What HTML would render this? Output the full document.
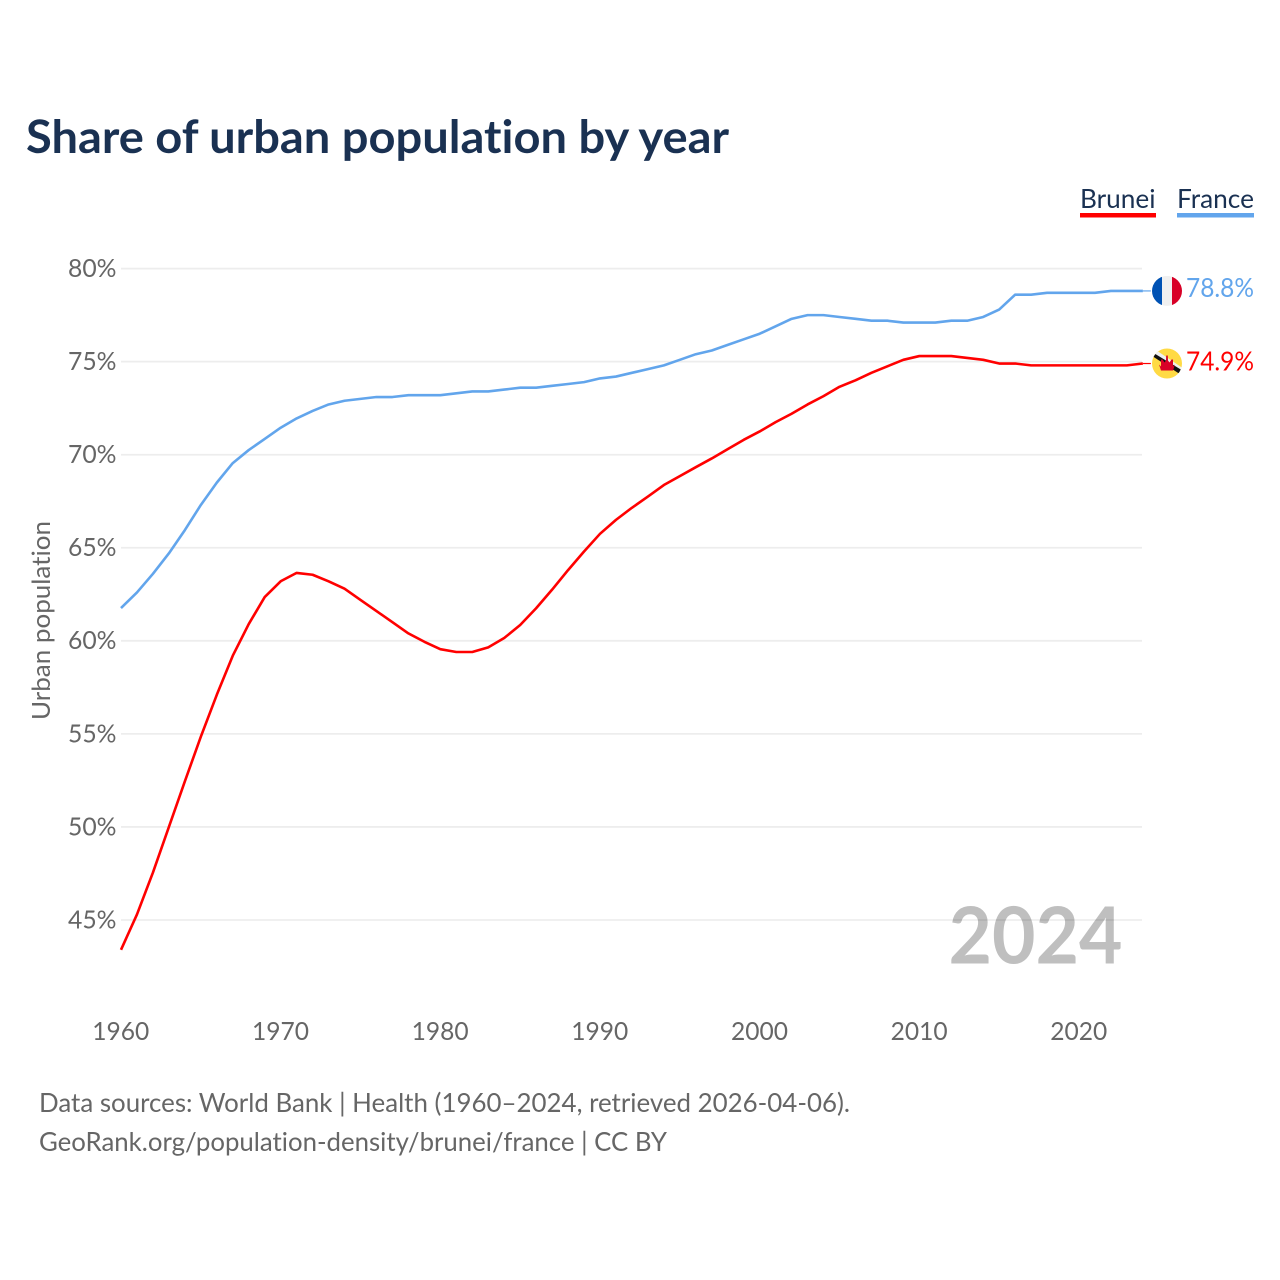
<!DOCTYPE html>
<html lang="en">
<head>
<meta charset="utf-8">
<title>Share of urban population by year</title>
<style>
html,body{margin:0;padding:0;background:#fff;width:1280px;height:1280px;overflow:hidden}
svg{display:block}
text{font-family:"Lato","Carlito","Liberation Sans",sans-serif;font-variant-ligatures:none;font-feature-settings:"liga" 0,"clig" 0}
</style>
</head>
<body>
<svg id="chart" xmlns="http://www.w3.org/2000/svg" width="1280" height="1280" viewBox="0 0 1280 1280">
  <defs>
    <clipPath id="flag-clip"><circle cx="0" cy="0" r="15"></circle></clipPath>
  </defs>
  <rect width="1280" height="1280" fill="#ffffff"></rect>
  <text x="26" y="153" font-size="46" font-weight="700" fill="#1a3152" textLength="703" lengthAdjust="spacingAndGlyphs">Share of urban population by year</text>

  <text x="1080" y="208" font-size="26.5" fill="#1a3152" textLength="75.5" lengthAdjust="spacingAndGlyphs">Brunei</text>
  <rect x="1080" y="213" width="76" height="4.5" fill="#ff0000"></rect>
  <text x="1177" y="208" font-size="26.5" fill="#1a3152" textLength="77" lengthAdjust="spacingAndGlyphs">France</text>
  <rect x="1177" y="213" width="77" height="4.5" fill="#62a5ec"></rect>

  <text x="948.5" y="963.5" font-size="79" font-weight="700" fill="#bfbfbf" textLength="174" lengthAdjust="spacingAndGlyphs">2024</text>

  <g id="grid"></g>
  <g id="y-axis"></g>
  <g id="x-axis"></g>

  <text transform="translate(50 620.5) rotate(-90)" text-anchor="middle" font-size="25" fill="#666666" textLength="199" lengthAdjust="spacingAndGlyphs">Urban population</text>

  <g id="series"></g>

  <g id="flag-france">
    <g clip-path="url(#flag-clip)">
      <rect x="-15" y="-15" width="30" height="30" fill="#f0f0f0"></rect>
      <rect x="-15" y="-15" width="10" height="30" fill="#0052b4"></rect>
      <rect x="5" y="-15" width="10" height="30" fill="#d80027"></rect>
    </g>
  </g>
  <g id="flag-brunei">
    <g clip-path="url(#flag-clip)">
      <rect x="-15" y="-15" width="30" height="30" fill="#ffda44"></rect>
      <polygon points="-17,-12 -14,-15.5 17,5.5 16,9" fill="#f0f0f0"></polygon>
      <polygon points="-17,-9 -15,-11.5 17,8 15,12" fill="#111111"></polygon>
      <polygon points="-0.8,-8 0.8,-8 1,-3 2.5,-1 4.5,-4 6,-4 6,3 8,1 6,7 -6,7 -8,1 -6,3 -6,-4 -4.5,-4 -2.5,-1 -1,-3" fill="#d80027"></polygon>
    </g>
  </g>

  <text id="value-france" x="1186" y="296" font-size="26.5" fill="#62a5ec" textLength="68" lengthAdjust="spacingAndGlyphs"></text>
  <text id="value-brunei" x="1186" y="370" font-size="26.5" fill="#ff0000" textLength="68" lengthAdjust="spacingAndGlyphs"></text>

  <text x="39" y="1112" font-size="26" fill="#666666" textLength="811" lengthAdjust="spacingAndGlyphs">Data sources: World Bank | Health (1960–2024, retrieved 2026-04-06).</text>
  <text x="39" y="1151" font-size="26" fill="#666666" textLength="628" lengthAdjust="spacingAndGlyphs">GeoRank.org/population-density/brunei/france | CC BY</text>
</svg>
<script>
const years = [1960,1961,1962,1963,1964,1965,1966,1967,1968,1969,1970,1971,1972,1973,1974,1975,1976,1977,1978,1979,1980,1981,1982,1983,1984,1985,1986,1987,1988,1989,1990,1991,1992,1993,1994,1995,1996,1997,1998,1999,2000,2001,2002,2003,2004,2005,2006,2007,2008,2009,2010,2011,2012,2013,2014,2015,2016,2017,2018,2019,2020,2021,2022,2023,2024];
const franceValues = [61.76,62.6,63.6,64.7,65.95,67.3,68.5,69.55,70.25,70.85,71.45,71.95,72.35,72.7,72.9,73.0,73.1,73.1,73.2,73.2,73.2,73.3,73.4,73.4,73.5,73.6,73.6,73.7,73.8,73.9,74.1,74.2,74.4,74.6,74.8,75.1,75.4,75.6,75.9,76.2,76.5,76.9,77.3,77.5,77.5,77.4,77.3,77.2,77.2,77.1,77.1,77.1,77.2,77.2,77.4,77.8,78.6,78.6,78.7,78.7,78.7,78.7,78.8,78.8,78.8];
const bruneiValues = [43.4,45.3,47.55,50.0,52.45,54.85,57.1,59.2,60.9,62.35,63.2,63.65,63.55,63.2,62.8,62.2,61.6,61.0,60.4,59.95,59.55,59.4,59.4,59.65,60.15,60.85,61.75,62.75,63.8,64.8,65.75,66.5,67.15,67.75,68.37,68.85,69.33,69.8,70.3,70.8,71.25,71.75,72.2,72.7,73.15,73.65,74.0,74.4,74.75,75.1,75.3,75.3,75.3,75.2,75.1,74.9,74.9,74.8,74.8,74.8,74.8,74.8,74.8,74.8,74.9];
const yTicks = [45,50,55,60,65,70,75,80];
const yTickLabels = ["45%","50%","55%","60%","65%","70%","75%","80%"];
const xTicks = [1960,1970,1980,1990,2000,2010,2020];
const xTickLabels = ["1960","1970","1980","1990","2000","2010","2020"];

const NS = 'http://www.w3.org/2000/svg';
function xScale(year){ return 121 + (year - 1960) * (1079 - 121) / 60; }
function yScale(v){ return 920 + (v - 45) * (268.6 - 920) / 35; }

const grid = document.getElementById('grid');
const yAxis = document.getElementById('y-axis');
const xAxis = document.getElementById('x-axis');
const series = document.getElementById('series');

yTicks.forEach(function(t, i){
  const line = document.createElementNS(NS, 'line');
  
  
  line.setAttribute('x1', xScale(1960));
  line.setAttribute('x2', 1142);
  line.setAttribute('y1', yScale(t));
  line.setAttribute('y2', yScale(t));
  line.setAttribute('stroke', 'rgba(0,0,0,0.07)');
  line.setAttribute('stroke-width', '1.8');
  grid.appendChild(line);

  const label = document.createElementNS(NS, 'text');
  
  
  label.setAttribute('x', 68);
  label.setAttribute('y', yScale(t) + 8.4);
  label.setAttribute('font-size', '25');
  label.setAttribute('fill', '#666666');
  label.setAttribute('textLength', '48.5');
  label.setAttribute('lengthAdjust', 'spacingAndGlyphs');
  label.textContent = yTickLabels[i];
  yAxis.appendChild(label);
});

xTicks.forEach(function(t, i){
  const label = document.createElementNS(NS, 'text');
  
  
  label.setAttribute('x', xScale(t) - 28.7);
  label.setAttribute('y', 1040);
  label.setAttribute('font-size', '25');
  label.setAttribute('fill', '#666666');
  label.setAttribute('textLength', '57');
  label.setAttribute('lengthAdjust', 'spacingAndGlyphs');
  label.textContent = xTickLabels[i];
  xAxis.appendChild(label);
});

function linePath(values){
  return values.map(function(v, i){
    return (i ? 'L' : 'M') + xScale(years[i]).toFixed(2) + ' ' + yScale(v).toFixed(2);
  }).join(' ');
}

const bruneiLine = document.createElementNS(NS, 'path');


bruneiLine.setAttribute('d', linePath(bruneiValues));
bruneiLine.setAttribute('fill', 'none');
bruneiLine.setAttribute('stroke', '#ff0000');
bruneiLine.setAttribute('stroke-width', '2.6');
bruneiLine.setAttribute('stroke-linejoin', 'round');
series.appendChild(bruneiLine);

const franceLine = document.createElementNS(NS, 'path');


franceLine.setAttribute('d', linePath(franceValues));
franceLine.setAttribute('fill', 'none');
franceLine.setAttribute('stroke', '#62a5ec');
franceLine.setAttribute('stroke-width', '2.6');
franceLine.setAttribute('stroke-linejoin', 'round');
series.appendChild(franceLine);

const lastYear = years[years.length - 1];
const lastFrance = franceValues[franceValues.length - 1];
const lastBrunei = bruneiValues[bruneiValues.length - 1];

const franceConnector = document.createElementNS(NS, 'line');


franceConnector.setAttribute('x1', xScale(lastYear));
franceConnector.setAttribute('x2', xScale(lastYear) + 8);
franceConnector.setAttribute('y1', yScale(lastFrance));
franceConnector.setAttribute('y2', yScale(lastFrance));
franceConnector.setAttribute('stroke', '#62a5ec');
franceConnector.setAttribute('stroke-width', '1.2');
series.appendChild(franceConnector);

const bruneiConnector = document.createElementNS(NS, 'line');


bruneiConnector.setAttribute('x1', xScale(lastYear));
bruneiConnector.setAttribute('x2', xScale(lastYear) + 8);
bruneiConnector.setAttribute('y1', yScale(lastBrunei));
bruneiConnector.setAttribute('y2', yScale(lastBrunei));
bruneiConnector.setAttribute('stroke', '#ff0000');
bruneiConnector.setAttribute('stroke-width', '1.2');
series.appendChild(bruneiConnector);

document.getElementById('flag-france').setAttribute('transform', 'translate(1167 ' + yScale(lastFrance).toFixed(2) + ')');
document.getElementById('flag-brunei').setAttribute('transform', 'translate(1167 ' + yScale(lastBrunei).toFixed(2) + ')');

const valueFrance = document.getElementById('value-france');
valueFrance.textContent = lastFrance.toFixed(1) + '%';
valueFrance.setAttribute('y', (yScale(lastFrance) + 6).toFixed(2));
const valueBrunei = document.getElementById('value-brunei');
valueBrunei.textContent = lastBrunei.toFixed(1) + '%';
valueBrunei.setAttribute('y', (yScale(lastBrunei) + 7).toFixed(2));
</script>
</body>
</html>
